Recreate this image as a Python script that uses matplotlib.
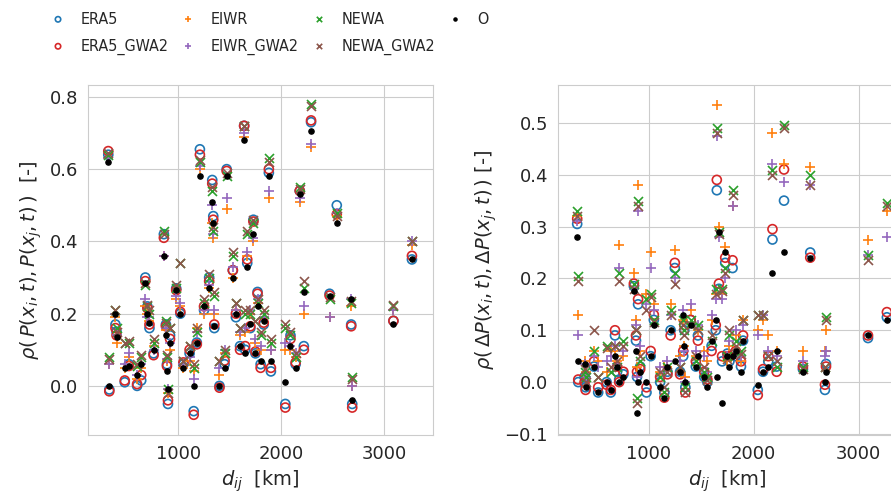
import matplotlib
matplotlib.use('Agg')
import matplotlib.pyplot as plt
from matplotlib.font_manager import FontProperties
import seaborn as sns

# pair distances [km]
dist = [320, 330, 390, 400, 480, 520, 600, 640, 680, 700, 720, 760, 860, 880, 890,
        900, 920, 980, 1020, 1050, 1110, 1150, 1180, 1210, 1250, 1300, 1330, 1340,
        1350, 1400, 1450, 1470, 1530, 1560, 1600, 1640, 1650, 1670, 1700, 1730, 1750,
        1770, 1800, 1830, 1880, 1900, 2040, 2090, 2140, 2180, 2220, 2290, 2470, 2540,
        2680, 2690, 3090, 3270]

# correlation of P
p_era5 = [0.64, -0.01, 0.17, 0.15, 0.01, 0.06, 0.0, 0.015, 0.3, 0.22, 0.16, 0.09, 0.42, 0.17, 0.06,
          -0.05, 0.14, 0.27, 0.2, 0.06, 0.09, -0.07, 0.12, 0.655, 0.21, 0.3, 0.57, 0.47,
          0.16, 0.0, 0.06, 0.6, 0.32, 0.19, 0.11, 0.72, 0.1, 0.34, 0.16, 0.46, 0.09,
          0.26, 0.06, 0.17, 0.59, 0.04, -0.05, 0.14, 0.06, 0.54, 0.11, 0.73, 0.255, 0.5,
          0.17, -0.05, 0.18, 0.35]
p_era5_gwa = [0.65, -0.015, 0.16, 0.14, 0.015, 0.055, 0.005, 0.03, 0.29, 0.215, 0.17, 0.085, 0.41, 0.165, 0.055,
              -0.04, 0.13, 0.265, 0.205, 0.065, 0.1, -0.08, 0.115, 0.64, 0.22, 0.29, 0.56, 0.46,
              0.17, -0.005, 0.07, 0.595, 0.32, 0.2, 0.1, 0.72, 0.11, 0.35, 0.165, 0.455, 0.095,
              0.255, 0.05, 0.175, 0.6, 0.05, -0.06, 0.13, 0.065, 0.54, 0.1, 0.735, 0.25, 0.475,
              0.165, -0.06, 0.18, 0.36]
p_eiwr = [0.63, 0.06, 0.19, 0.12, 0.05, 0.08, 0.02, 0.05, 0.22, 0.2, 0.18, 0.11, 0.36, 0.155, 0.07,
          -0.02, 0.1, 0.24, 0.22, 0.05, 0.07, 0.04, 0.16, 0.6, 0.2, 0.27, 0.45, 0.41,
          0.2, 0.03, 0.09, 0.49, 0.3, 0.21, 0.14, 0.69, 0.15, 0.36, 0.2, 0.4, 0.12,
          0.23, 0.1, 0.19, 0.52, 0.1, 0.1, 0.1, 0.08, 0.51, 0.2, 0.66, 0.19, 0.47,
          0.22, 0.0, 0.21, 0.39]
p_eiwr_gwa = [0.63, 0.06, 0.2, 0.14, 0.06, 0.09, 0.03, 0.06, 0.24, 0.19, 0.19, 0.1, 0.36, 0.16, 0.075,
              -0.01, 0.12, 0.25, 0.23, 0.06, 0.08, 0.02, 0.15, 0.61, 0.21, 0.28, 0.5, 0.42,
              0.21, 0.05, 0.1, 0.52, 0.33, 0.21, 0.15, 0.7, 0.16, 0.37, 0.21, 0.41, 0.13,
              0.24, 0.11, 0.19, 0.54, 0.1, 0.12, 0.11, 0.09, 0.52, 0.22, 0.67, 0.19, 0.48,
              0.24, 0.0, 0.21, 0.4]
p_newa = [0.64, 0.08, 0.21, 0.16, 0.12, 0.12, 0.055, 0.08, 0.28, 0.22, 0.2, 0.12, 0.43, 0.18, 0.08,
          -0.01, 0.16, 0.27, 0.34, 0.07, 0.11, 0.05, 0.15, 0.62, 0.23, 0.3, 0.54, 0.43,
          0.25, 0.07, 0.09, 0.58, 0.36, 0.23, 0.16, 0.72, 0.2, 0.42, 0.2, 0.45, 0.18,
          0.23, 0.14, 0.2, 0.63, 0.12, 0.16, 0.14, 0.08, 0.55, 0.27, 0.78, 0.24, 0.48,
          0.23, 0.025, 0.22, 0.4]
p_newa_gwa = [0.645, 0.075, 0.21, 0.15, 0.12, 0.125, 0.06, 0.085, 0.285, 0.225, 0.21, 0.13, 0.42, 0.175, 0.085,
              -0.02, 0.16, 0.28, 0.34, 0.07, 0.11, 0.06, 0.16, 0.625, 0.24, 0.31, 0.55, 0.44,
              0.26, 0.07, 0.1, 0.59, 0.37, 0.23, 0.16, 0.72, 0.21, 0.43, 0.21, 0.46, 0.18,
              0.24, 0.15, 0.21, 0.62, 0.13, 0.17, 0.15, 0.09, 0.545, 0.29, 0.775, 0.245, 0.47,
              0.235, 0.02, 0.225, 0.4]
p_obs = [0.62, 0.0, 0.2, 0.135, 0.05, 0.055, 0.03, 0.06, 0.285, 0.2, 0.175, 0.1, 0.36, 0.14, 0.04,
         -0.01, 0.12, 0.265, 0.2, 0.05, 0.09, 0.0, 0.12, 0.58, 0.22, 0.27, 0.51, 0.45,
         0.165, 0.0, 0.05, 0.58, 0.3, 0.2, 0.11, 0.68, 0.09, 0.33, 0.17, 0.42, 0.09,
         0.22, 0.07, 0.18, 0.58, 0.07, 0.01, 0.11, 0.05, 0.53, 0.26, 0.705, 0.25, 0.45,
         0.24, -0.04, 0.17, 0.35]

# correlation of delta P
dp_era5 = [0.305, 0.0, 0.01, -0.01, 0.03, -0.02, 0.0, -0.02, 0.09, 0.02, 0.005, 0.015, 0.185, 0.08, 0.01,
           0.15, 0.03, -0.02, 0.05, 0.12, 0.0, -0.02, 0.02, 0.1, 0.22, 0.02, 0.05, 0.1,
           -0.01, 0.12, 0.03, 0.09, 0.01, 0.0, 0.07, 0.1, 0.37, 0.18, 0.04, 0.23, 0.055,
           0.04, 0.22, 0.05, 0.03, 0.08, -0.015, 0.02, 0.04, 0.275, 0.03, 0.35, 0.025, 0.25,
           -0.015, 0.035, 0.085, 0.125]
dp_era5_gwa = [0.315, 0.005, 0.0, -0.015, 0.04, -0.01, -0.005, -0.015, 0.1, 0.03, 0.0, 0.02, 0.19, 0.09, 0.02,
               0.16, 0.025, -0.01, 0.06, 0.13, 0.01, -0.03, 0.015, 0.09, 0.23, 0.015, 0.06, 0.11,
               -0.02, 0.12, 0.04, 0.08, 0.02, 0.005, 0.06, 0.11, 0.39, 0.19, 0.05, 0.24, 0.05,
               0.05, 0.235, 0.06, 0.04, 0.09, -0.025, 0.025, 0.05, 0.295, 0.02, 0.41, 0.03, 0.24,
               -0.005, 0.03, 0.09, 0.135]
dp_eiwr = [0.32, 0.13, 0.04, 0.02, 0.06, 0.04, 0.02, 0.06, 0.06, 0.04, 0.265, 0.05, 0.21, 0.12, 0.03,
           0.38, 0.06, 0.17, 0.25, 0.15, 0.02, 0.03, 0.03, 0.15, 0.255, 0.05, 0.12, 0.07,
           0.01, 0.14, 0.05, 0.1, 0.06, 0.04, 0.12, 0.17, 0.535, 0.3, 0.17, 0.26, 0.04,
           0.07, 0.34, 0.09, 0.04, 0.12, 0.1, 0.12, 0.09, 0.48, 0.06, 0.42, 0.06, 0.415,
           0.06, 0.1, 0.275, 0.33]
dp_eiwr_gwa = [0.31, 0.09, 0.035, 0.01, 0.05, 0.03, 0.04, 0.05, 0.07, 0.035, 0.22, 0.06, 0.18, 0.11, 0.01,
               0.33, 0.07, 0.15, 0.22, 0.14, 0.03, 0.02, 0.04, 0.13, 0.2, 0.04, 0.14, 0.06,
               0.0, 0.15, 0.06, 0.11, 0.05, 0.02, 0.13, 0.16, 0.475, 0.28, 0.16, 0.2, 0.05,
               0.08, 0.34, 0.1, 0.05, 0.11, 0.09, 0.13, 0.06, 0.42, 0.05, 0.385, 0.04, 0.38,
               0.05, 0.06, 0.245, 0.28]
dp_newa = [0.33, 0.205, 0.02, 0.01, 0.06, 0.01, 0.07, 0.02, 0.07, 0.03, 0.21, 0.08, 0.19, 0.1, -0.03,
           0.35, 0.04, 0.16, 0.17, 0.12, 0.01, -0.02, 0.03, 0.14, 0.21, 0.03, 0.12, 0.1,
           -0.01, 0.12, 0.04, 0.11, 0.02, 0.01, 0.08, 0.18, 0.49, 0.29, 0.18, 0.22, 0.05,
           0.09, 0.37, 0.08, 0.06, 0.12, 0.13, 0.13, 0.05, 0.41, 0.03, 0.495, 0.03, 0.4,
           0.03, 0.125, 0.245, 0.345]
dp_newa_gwa = [0.32, 0.195, 0.025, 0.0, 0.1, 0.01, 0.065, 0.03, 0.07, 0.04, 0.195, 0.07, 0.18, 0.1, -0.04,
               0.34, 0.05, 0.14, 0.165, 0.115, 0.02, -0.01, 0.02, 0.13, 0.19, 0.03, 0.11, 0.09,
               -0.02, 0.11, 0.05, 0.1, 0.03, 0.005, 0.09, 0.17, 0.48, 0.285, 0.175, 0.21, 0.045,
               0.1, 0.36, 0.07, 0.055, 0.12, 0.13, 0.13, 0.05, 0.4, 0.04, 0.49, 0.025, 0.38,
               0.03, 0.12, 0.235, 0.34]
dp_obs = [0.28, 0.04, 0.035, -0.01, 0.03, -0.02, 0.0, -0.015, 0.05, 0.03, 0.0, 0.01, 0.175, 0.06, -0.06,
          0.0, 0.02, 0.0, 0.05, 0.11, -0.01, -0.03, 0.03, 0.1, 0.04, 0.02, 0.13, 0.07,
          0.0, 0.11, 0.03, 0.05, 0.01, -0.01, 0.08, 0.12, 0.01, 0.29, -0.04, 0.25, 0.05,
          0.03, 0.05, 0.06, 0.02, 0.08, -0.005, 0.02, 0.03, 0.21, 0.06, 0.25, 0.02, 0.24,
          0.0, 0.02, 0.09, 0.12]

names = ['ERA5', 'ERA5_GWA2', 'EIWR', 'EIWR_GWA2', 'NEWA', 'NEWA_GWA2', 'O']
colors = ['tab:blue', 'tab:red', 'tab:orange', 'tab:purple', 'tab:green', 'tab:brown', 'black']
markers = ['o', 'o', '+', '+', 'x', 'x', '.']

sns.set_style('whitegrid')
plt.rcParams['font.family'] = ['DejaVu Sans']
plt.rcParams['font.size'] = 13

fig = plt.figure(figsize=(8.91, 5.0), dpi=100)
ax1 = fig.add_axes([0.099, 0.13, 0.387, 0.70])
ax2 = fig.add_axes([0.626, 0.13, 0.380, 0.70])

def draw(ax, series):
    for vals, name, c, m in zip(series, names, colors, markers):
        if m == 'o':
            ax.scatter(dist, vals, s=42, facecolors='none', edgecolors=c, linewidths=1.2, label=name)
        elif m == '.':
            ax.scatter(dist, vals, s=14, color=c, label=name)
        else:
            ax.scatter(dist, vals, s=42, color=c, marker=m, linewidths=1.2, label=name)
    ax.set_xlabel(r'$d_{ij}$  [km]', fontsize=14)
    ax.tick_params(labelsize=13, colors='#262626')
    for s in ax.spines.values():
        s.set_color('#cccccc')

draw(ax1, [p_era5, p_era5_gwa, p_eiwr, p_eiwr_gwa, p_newa, p_newa_gwa, p_obs])
draw(ax2, [dp_era5, dp_era5_gwa, dp_eiwr, dp_eiwr_gwa, dp_newa, dp_newa_gwa, dp_obs])

ax1.set_xlim(125, 3475)
ax1.set_ylim(-0.136, 0.833)
ax1.set_xticks([1000, 2000, 3000])
ax1.set_yticks([0.0, 0.2, 0.4, 0.6, 0.8])
ax1.set_ylabel(r'$\rho(\,P(x_i,t), P(x_j,t)\,)$  [-]', fontsize=14)

ax2.set_xlim(135, 3360)
ax2.set_ylim(-0.102, 0.573)
ax2.set_xticks([1000, 2000, 3000])
ax2.set_yticks([-0.1, 0.0, 0.1, 0.2, 0.3, 0.4, 0.5])
ax2.set_ylabel(r'$\rho(\,\Delta P(x_i,t), \Delta P(x_j,t)\,)$ [-]', fontsize=14)

leg_font = FontProperties(family='DejaVu Sans', stretch='condensed', size=11.5)
handles, labels = ax1.get_legend_handles_labels()
fig.legend(handles, labels, loc='upper left', bbox_to_anchor=(0.0566, 0.977), ncol=4,
           frameon=False, prop=leg_font, markerscale=0.6, borderpad=0, borderaxespad=0,
           handlelength=0.95, handletextpad=0.95, columnspacing=0.75, labelspacing=0.75)

fig.savefig('out.png', dpi=100)
